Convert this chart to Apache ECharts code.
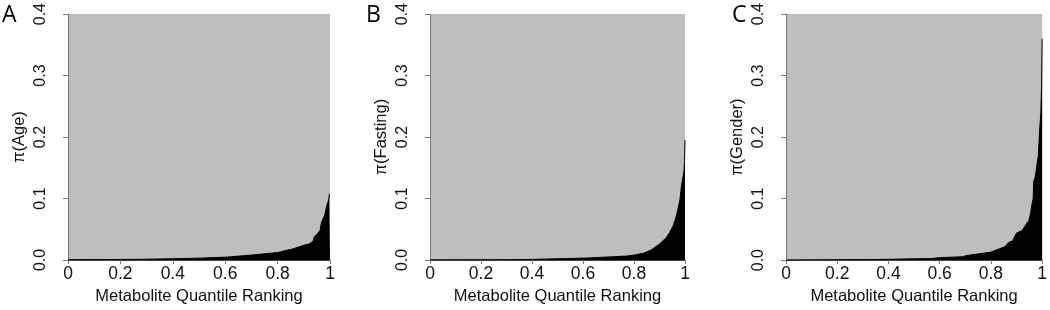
<!DOCTYPE html>
<html>
<head>
<meta charset="utf-8">
<script src="https://cdn.jsdelivr.net/npm/echarts@6/dist/echarts.min.js"></script>
<style>
  html, body { margin: 0; padding: 0; background: #fff; }
  #chart { width: 1050px; height: 310px; }
</style>
</head>
<body>
<div id="chart"></div>
<script>
// 数据：按分位数排序的代谢物 π 值
const panelLetters = ['A', 'B', 'C']
const yNames = ['π(Age)', 'π(Fasting)', 'π(Gender)']
const xName = 'Metabolite Quantile Ranking'

const rankA = [0, 0.25, 0.4, 0.5, 0.58, 0.6, 0.7, 0.77, 0.8, 0.835, 0.85, 0.88, 0.9, 0.92, 0.936, 0.94, 0.95, 0.962, 0.966, 0.97, 0.98, 0.987, 0.995, 0.997, 1]
const piA = [0.0005, 0.001, 0.002, 0.003, 0.0043, 0.0045, 0.008, 0.011, 0.012, 0.016, 0.017, 0.021, 0.024, 0.026, 0.031, 0.038, 0.042, 0.048, 0.058, 0.064, 0.073, 0.088, 0.098, 0.106, 0.108]

const rankB = [0, 0.3, 0.4, 0.5, 0.6, 0.64, 0.7, 0.77, 0.8, 0.837, 0.85, 0.87, 0.9, 0.928, 0.94, 0.954, 0.965, 0.974, 0.98, 0.987, 0.99, 0.996, 0.998, 1]
const piB = [0.0003, 0.0005, 0.001, 0.002, 0.003, 0.0037, 0.005, 0.0064, 0.008, 0.011, 0.013, 0.017, 0.026, 0.037, 0.045, 0.056, 0.07, 0.086, 0.098, 0.124, 0.13, 0.145, 0.16, 0.195]

const rankC = [0, 0.3, 0.35, 0.5, 0.565, 0.6, 0.692, 0.7, 0.8, 0.807, 0.85, 0.858, 0.87, 0.884, 0.9, 0.922, 0.94, 0.948, 0.955, 0.96, 0.965, 0.967, 0.973, 0.985, 0.99, 0.995, 0.998, 1]
const piC = [0.0003, 0.0008, 0.001, 0.002, 0.0025, 0.004, 0.0055, 0.007, 0.013, 0.0136, 0.021, 0.023, 0.029, 0.031, 0.044, 0.048, 0.06, 0.064, 0.077, 0.09, 0.1, 0.128, 0.135, 0.17, 0.21, 0.24, 0.287, 0.36]

const ranks = [rankA, rankB, rankC]
const pis = [piA, piB, piC]

// 三个面板的绘图区（像素）
const grids = [
  { left: 68, right: 720, top: 11, bottom: 50 },
  { left: 430, right: 365, top: 10, bottom: 50 },
  { left: 786, right: 3, top: 12, bottom: 42 },
]
const letterPos = [[2, 4], [366, 4], [732, 4]]

const font = "'Liberation Sans', Arial, sans-serif"
const axisGray = '#7a7a7a'

const chart = echarts.init(document.getElementById('chart'))

chart.setOption({
  animation: false,
  title: panelLetters.map((t, i) => ({
    text: t,
    left: letterPos[i][0],
    top: letterPos[i][1],
    padding: 0,
    textStyle: { fontFamily: "'Open Sans', sans-serif", fontSize: 23, fontWeight: 'normal', color: '#000' },
  })),
  grid: grids.map(g => ({
    ...g,
    show: true,
    backgroundColor: '#bebebe',
    borderWidth: 0,
    containLabel: false,
  })),
  xAxis: grids.map((g, i) => ({
    type: 'value',
    gridIndex: i,
    min: 0,
    max: 1,
    interval: 0.2,
    name: xName,
    nameLocation: 'middle',
    nameGap: 23,
    nameTextStyle: { fontFamily: font, fontSize: 16.5, color: '#111' },
    axisLine: { show: true, onZero: false, lineStyle: { color: '#444', width: 1 } },
    axisTick: { show: true, length: 4, lineStyle: { color: axisGray } },
    axisLabel: { fontFamily: font, fontSize: 17.5, color: '#111', margin: 5 },
    splitLine: { show: false },
  })),
  yAxis: grids.map((g, i) => ({
    type: 'value',
    gridIndex: i,
    min: 0,
    max: 0.4,
    interval: 0.1,
    offset: 10,
    name: yNames[i],
    nameLocation: 'middle',
    nameRotate: 90,
    nameGap: 30,
    nameTextStyle: { fontFamily: font, fontSize: 16.5, color: '#111' },
    axisLine: { show: true, lineStyle: { color: axisGray, width: 1 } },
    axisTick: { show: true, length: 5, lineStyle: { color: axisGray } },
    axisLabel: {
      fontFamily: font,
      fontSize: 16,
      color: '#111',
      rotate: 90,
      margin: 9,
      formatter: v => v.toFixed(1),
    },
    splitLine: { show: false },
  })),
  series: ranks.map((r, i) => ({
    type: 'line',
    xAxisIndex: i,
    yAxisIndex: i,
    data: r.map((x, k) => [x, pis[i][k]]),
    showSymbol: false,
    lineStyle: { color: '#000', width: 1 },
    areaStyle: { color: '#000', opacity: 1 },
  })),
})
</script>
</body>
</html>
